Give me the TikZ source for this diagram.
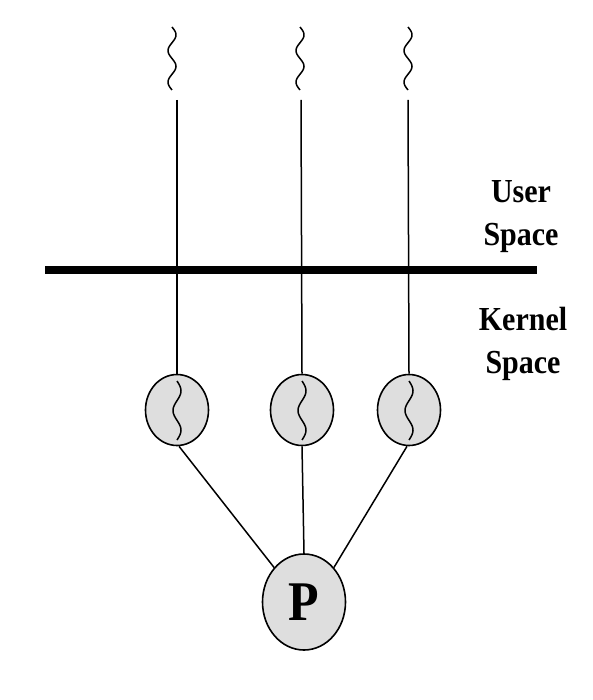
\documentclass[tikz,border=0pt]{standalone}
\usepackage{fontspec}
\setmainfont{Liberation Serif}
\usetikzlibrary{shapes.geometric}
\newcommand{\tall}[1]{\scalebox{1}[1.12]{#1}}
\begin{document}
\begin{tikzpicture}[x=1pt,y=-1pt,
  thr/.style={ellipse,draw,line width=1.6pt,fill=black!13,minimum width=63pt,minimum height=71pt,inner sep=0pt},
  proc/.style={ellipse,draw,line width=1.6pt,fill=black!13,minimum width=83pt,minimum height=96pt,inner sep=0pt,font=\fontsize{50}{54}\selectfont\bfseries},
  conn/.style={line width=1.5pt},
  wave/.style={line width=1.5pt},
  lbl/.style={align=center,anchor=base,inner sep=0pt,font=\fontsize{30}{43}\selectfont\bfseries}]
\useasboundingbox (0,0) rectangle (592,700);
% threads (kernel-level)
\node[thr] (e1) at (177,410) {};
\node[thr] (e2) at (302,410) {};
\node[thr] (e3) at (409,410) {};
\node[proc] (p) at (304,602) {\tall{P}};
% top line ends
\coordinate (t1) at (177,100);
\coordinate (t2) at (301,100);
\coordinate (t3) at (408,100);
\draw[conn] (t1) -- (e1.north);
\draw[conn] (t2) -- (e2.north);
\draw[conn] (t3) -- (e3.north);
\draw[conn] (e1.south) ++(2,0) -- (p.north west);
\draw[conn] (e2.south) -- (p.north);
\draw[conn] (e3.south) ++(-2,0) -- (p.north east);
% wavy user threads
\draw[wave] plot[domain=0:720,samples=60] ({172+4*sin(\x)},{27+\x/720*63});
\draw[wave] plot[domain=0:720,samples=60] ({300+4*sin(\x)},{27+\x/720*63});
\draw[wave] plot[domain=0:720,samples=60] ({408+4*sin(\x)},{27+\x/720*63});
% wavy inside threads
\draw[wave] plot[domain=0:540,samples=50] ({177+4*sin(\x)},{381+\x/540*59});
\draw[wave] plot[domain=0:540,samples=50] ({302+4*sin(\x)},{381+\x/540*59});
\draw[wave] plot[domain=0:540,samples=50] ({409+4*sin(\x)},{381+\x/540*59});
% separator
\coordinate (b1) at (45,270);
\coordinate (b2) at (537,270);
\draw[line width=8pt] (b1) -- (b2);
\node[lbl] (us) at (521,245) {\tall{User}\\\tall{Space}};
\node[lbl] (ks) at (523,373) {\tall{Kernel}\\\tall{Space}};
\end{tikzpicture}
\end{document}
